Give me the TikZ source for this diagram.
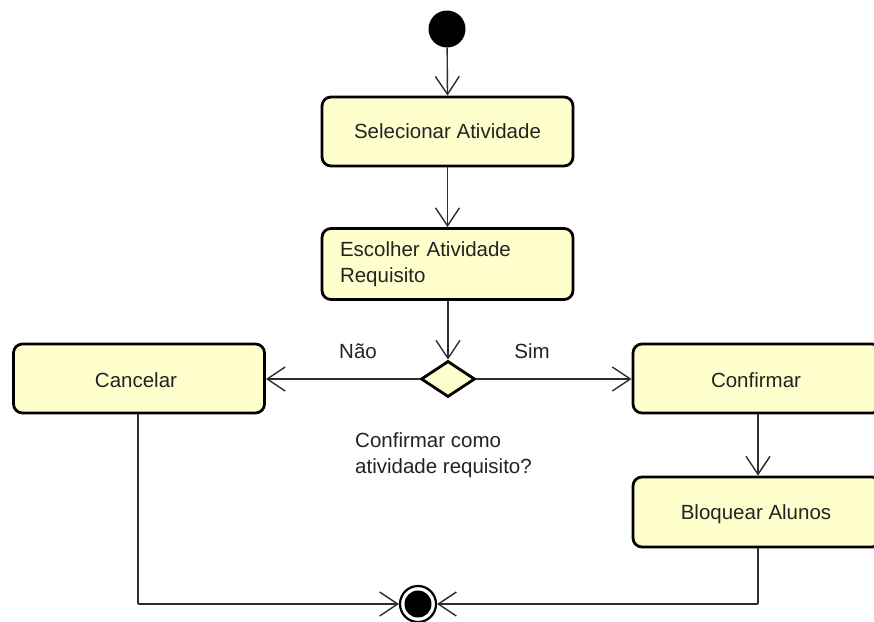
\documentclass[tikz,border=0pt]{standalone}
\usepackage{fontspec}
\setmainfont{Liberation Sans}
\usetikzlibrary{arrows.meta,shapes.geometric}

\definecolor{actfill}{RGB}{255,255,206}
\definecolor{linegray}{RGB}{45,45,45}
\definecolor{textgray}{RGB}{35,35,35}

\tikzset{
  action/.style={draw=black, line width=2.8pt, fill=actfill, rounded corners=9pt,
    minimum width=251pt, minimum height=69pt, inner sep=0pt,
    text=textgray, font=\fontsize{20.5pt}{25.5pt}\selectfont},
  decision/.style={diamond, draw=black, line width=2.8pt, fill=actfill,
    minimum width=54pt, minimum height=36pt, inner sep=0pt, aspect=1.5},
  flow/.style={draw=linegray, line width=1.4pt,
    -{Straight Barb[length=18pt, width=24pt, line width=1.4pt]}},
  plain/.style={draw=linegray, line width=1.4pt},
  lbl/.style={text=textgray, font=\fontsize{20.5pt}{25.5pt}\selectfont, inner sep=0pt}
}

\begin{document}
\begin{tikzpicture}[x=1pt, y=-1pt]
  \clip (0,0) rectangle (874,621);
  \fill[white] (0,0) rectangle (874,621);

  % initial and final nodes
  \node[circle, fill=black, minimum size=37pt, inner sep=0pt] (start) at (447,29) {};
  \node[circle, draw=black, line width=2.2pt, fill=white, minimum size=36pt, inner sep=0pt] (stop) at (418,604) {};
  \fill[black] (stop.center) circle (13.5pt);

  % actions
  \node[action] (sel) at (447.5,131.5) {Selecionar Atividade};
  \node[action, minimum height=71pt, text width=215pt, align=left] (esc) at (447.5,264)
    {Escolher Atividade\\Requisito};
  \node[action] (can) at (139,378.5) {};
  \node[lbl] at (136,380) {Cancelar};
  \node[action, minimum width=248pt] (conf) at (757,378.5) {};
  \node[lbl] at (756,380) {Confirmar};
  \node[action, minimum width=248pt, minimum height=70pt] (bloq) at (757,512) {};
  \node[lbl] at (756,514) {Bloquear Alunos};

  % decision
  \node[decision] (dec) at (448,379) {};
  \node[lbl] (nao) at (358,351) {Não};
  \node[lbl] (sim) at (532,351) {Sim};
  \node[lbl, align=left, anchor=north west, font=\fontsize{20.5pt}{26pt}\selectfont]
    (q) at (355,432) {Confirmar como\\atividade requisito?};

  % flows
  \draw[flow] (start) -- (sel.north);
  \draw[flow] (sel.south) -- (esc.north);
  \draw[flow] (esc.south -| dec.north) -- (dec.north);
  \draw[flow] (dec.west) -- (can.east |- dec.west);
  \draw[flow] (dec.east) -- (conf.west |- dec.east);
  \draw[flow] (conf.south -| 758,0) -- (bloq.north -| 758,0);

  \coordinate (cl) at (138,604);
  \coordinate (br) at (758,604);
  \draw[plain] (can.south -| cl) -- (cl);
  \draw[flow] (cl) -- (stop.west);
  \draw[plain] (bloq.south -| br) -- (br);
  \draw[flow] (br) -- (stop.east);
\end{tikzpicture}
\end{document}
